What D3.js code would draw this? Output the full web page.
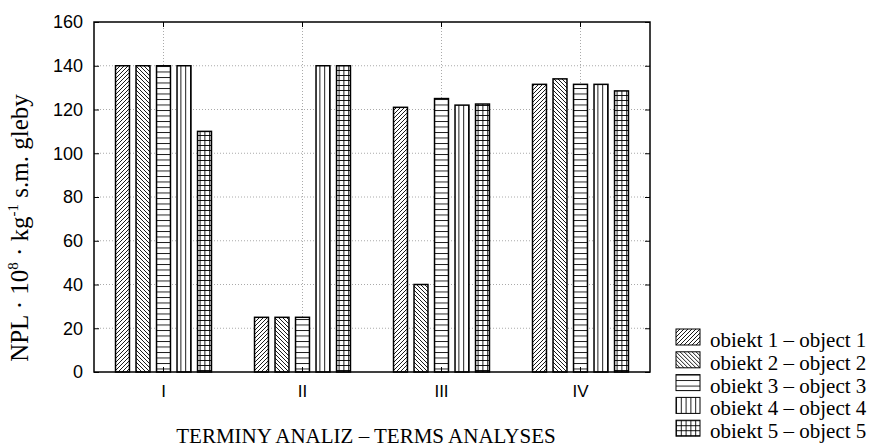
<!DOCTYPE html>
<html>
<head>
<meta charset="utf-8">
<script src="https://cdn.jsdelivr.net/npm/d3@7/dist/d3.min.js"></script>
<style>
  body { margin: 0; background: #fff; }
  .tick text { font-family: Arial, "Liberation Sans", sans-serif; }
</style>
</head>
<body>
<svg width="871" height="448"></svg>
<script>
// terms of analyses (x categories)
var terms = ["I", "II", "III", "IV"];
// series names
var objects = ["obiekt 1 – object 1", "obiekt 2 – object 2", "obiekt 3 – object 3",
               "obiekt 4 – object 4", "obiekt 5 – object 5"];
// values per object, one per term
var obj1 = [140, 25, 121, 131.5];
var obj2 = [140, 25, 40, 134];
var obj3 = [140, 25, 125, 131.5];
var obj4 = [140, 140, 122, 131.5];
var obj5 = [110, 140, 122.5, 128.5];
var yTicks = [0, 20, 40, 60, 80, 100, 120, 140, 160];

var series = [obj1, obj2, obj3, obj4, obj5];

var svg = d3.select("svg");
var mLeft = 94, mRight = 650, mTop = 22, mBottom = 372;
var serif = "'Liberation Serif', 'Times New Roman', serif";

var x0 = d3.scaleBand()
    .domain(terms)
    .range([mLeft, mRight]);

var x1 = d3.scaleBand()
    .domain(d3.range(objects.length))
    .range([0, x0.bandwidth()])
    .paddingInner(0.32)
    .paddingOuter(1.05);

var y = d3.scaleLinear()
    .domain([0, 160])
    .range([mBottom, mTop]);

// hatch patterns
var defs = svg.append("defs");
function pattern(id, w, h, lines) {
  var p = defs.append("pattern")
      .attr("id", id)
      .attr("patternUnits", "userSpaceOnUse")
      .attr("width", w)
      .attr("height", h);
  p.append("rect").attr("width", w).attr("height", h).attr("fill", "#fff");
  lines.forEach(function(l) {
    p.append("path").attr("d", l)
      .attr("stroke", "#000")
      .attr("stroke-width", 0.9)
      .attr("fill", "none");
  });
}
pattern("p0", 4, 4, ["M-1,1 L1,-1 M0,4 L4,0 M3,5 L5,3"]);
pattern("p1", 4, 4, ["M-1,3 L1,5 M0,0 L4,4 M3,-1 L5,1"]);
pattern("p2", 6, 5.5, ["M0,0.5 H6"]);
pattern("p3", 4.8, 6, ["M0.5,0 V6"]);
pattern("p4", 4.8, 5, ["M0.5,0 V5", "M0,0.5 H4.8"]);

// grid
svg.append("g")
  .selectAll("line")
  .data(yTicks.slice(1, -1))
  .enter().append("line")
    .attr("x1", mLeft).attr("x2", mRight)
    .attr("y1", function(d) { return y(d); })
    .attr("y2", function(d) { return y(d); })
    .attr("stroke", "#aaa")
    .attr("stroke-width", 1)
    .attr("stroke-dasharray", "1,2");

svg.append("g")
  .selectAll("line")
  .data(terms)
  .enter().append("line")
    .attr("x1", function(d) { return x0(d) + x0.bandwidth() / 2; })
    .attr("x2", function(d) { return x0(d) + x0.bandwidth() / 2; })
    .attr("y1", mTop).attr("y2", mBottom)
    .attr("stroke", "#aaa")
    .attr("stroke-width", 1)
    .attr("stroke-dasharray", "1,2");

// bars
var groups = svg.append("g")
  .selectAll("g")
  .data(terms)
  .enter().append("g")
    .attr("transform", function(d) { return "translate(" + x0(d) + ",0)"; });

groups.selectAll("rect")
  .data(function(d, i) { return series.map(function(s, j) { return {k: j, v: s[i]}; }); })
  .enter().append("rect")
    .attr("x", function(d) { return x1(d.k); })
    .attr("width", x1.bandwidth())
    .attr("y", function(d) { return y(d.v); })
    .attr("height", function(d) { return y(0) - y(d.v); })
    .attr("fill", function(d) { return "url(#p" + d.k + ")"; })
    .attr("stroke", "#000")
    .attr("stroke-width", 1.5);

// axes, ticks pointing inward
function tidy(g) {
  g.select(".domain").remove();
  g.selectAll("line").attr("stroke", "#000").attr("stroke-width", 1);
}
svg.append("g")
    .attr("transform", "translate(" + mLeft + ",0)")
    .call(d3.axisLeft(y).tickValues(yTicks).tickSizeInner(-5).tickSizeOuter(0).tickPadding(11))
    .call(tidy)
  .selectAll("text")
    .attr("font-size", 18)
    .attr("fill", "#000");

svg.append("g")
    .attr("transform", "translate(" + mRight + ",0)")
    .call(d3.axisRight(y).tickValues(yTicks).tickSizeInner(-5).tickSizeOuter(0).tickFormat(""))
    .call(tidy);

svg.append("g")
    .attr("transform", "translate(0," + mBottom + ")")
    .call(d3.axisBottom(x0).tickSizeInner(-5).tickSizeOuter(0).tickPadding(13))
    .call(tidy)
  .selectAll("text")
    .attr("font-size", 17)
    .attr("fill", "#000");

svg.append("g")
    .attr("transform", "translate(0," + mTop + ")")
    .call(d3.axisTop(x0).tickSizeInner(-5).tickSizeOuter(0).tickFormat(""))
    .call(tidy);

// frame
svg.append("rect")
    .attr("x", mLeft).attr("y", mTop)
    .attr("width", mRight - mLeft).attr("height", mBottom - mTop)
    .attr("fill", "none")
    .attr("stroke", "#000")
    .attr("stroke-width", 1.5);

// axis titles
var ylab = svg.append("text")
    .attr("transform", "translate(28,228) rotate(-90)")
    .attr("text-anchor", "middle")
    .attr("font-family", serif)
    .attr("font-size", 25)
    .attr("fill", "#000");
ylab.append("tspan").text("NPL · 10");
ylab.append("tspan").attr("dy", -10).attr("font-size", 15).text("8");
ylab.append("tspan").attr("dy", 10).text(" · kg");
ylab.append("tspan").attr("dy", -10).attr("font-size", 15).text("-1");
ylab.append("tspan").attr("dy", 10).text(" s.m. gleby");

svg.append("text")
    .attr("x", 366)
    .attr("y", 443)
    .attr("text-anchor", "middle")
    .attr("font-family", serif)
    .attr("font-size", 21)
    .attr("fill", "#000")
    .text("TERMINY ANALIZ – TERMS ANALYSES");

// legend
var legend = svg.append("g")
  .selectAll("g")
  .data(objects)
  .enter().append("g")
    .attr("transform", function(d, i) { return "translate(676," + (329 + i * 22.8) + ")"; });

legend.append("rect")
    .attr("width", 24)
    .attr("height", 16)
    .attr("fill", function(d, i) { return "url(#p" + i + ")"; })
    .attr("stroke", "#000")
    .attr("stroke-width", 1);

legend.append("text")
    .attr("x", 34)
    .attr("y", 18)
    .attr("font-family", serif)
    .attr("font-size", 21)
    .attr("fill", "#000")
    .text(function(d) { return d; });
</script>
</body>
</html>
